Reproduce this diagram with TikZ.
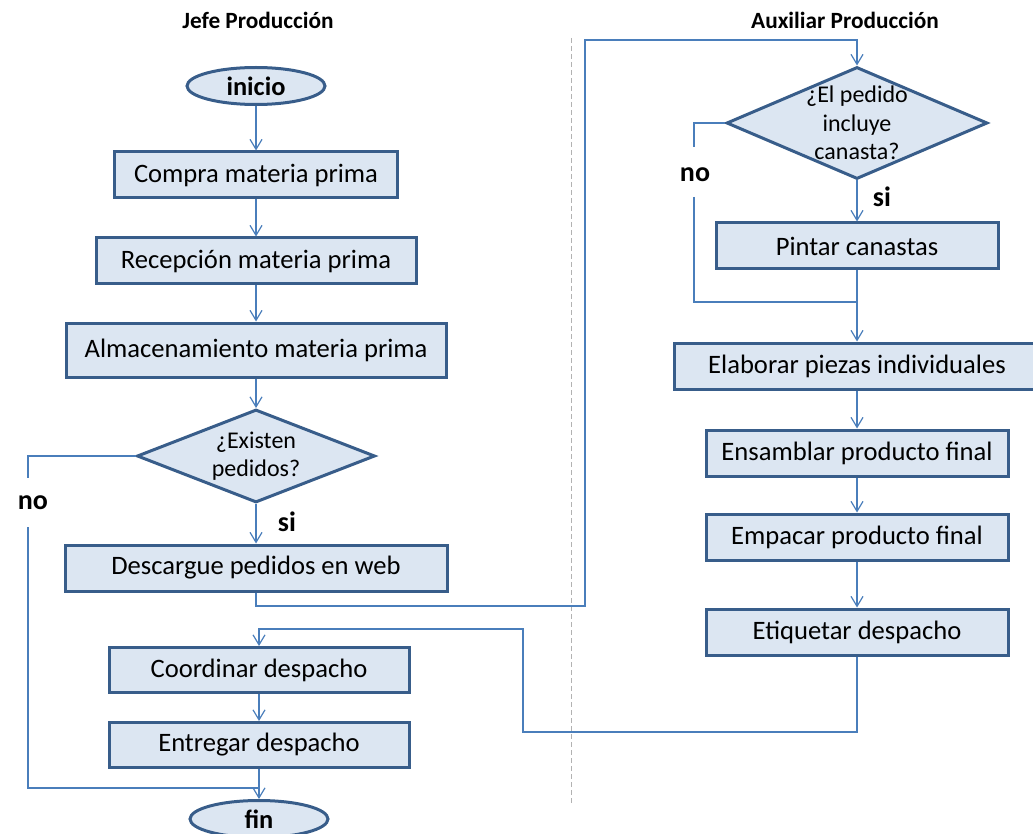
\documentclass[tikz,border=0pt]{standalone}
\usepackage{fontspec}
\setmainfont{Carlito}
\usetikzlibrary{shapes.geometric, arrows.meta}

\definecolor{boxfill}{HTML}{DCE6F2}
\definecolor{boxline}{HTML}{385D8A}
\definecolor{arrline}{HTML}{4A7EBB}

\begin{document}
\begin{tikzpicture}[x=1pt, y=-1pt,
  proc/.style={draw=boxline, fill=boxfill, line width=3pt, rectangle, minimum height=46pt, inner sep=0pt, font=\fontsize{26.6}{32}\selectfont},
  term/.style={draw=boxline, fill=boxfill, line width=3pt, ellipse, minimum width=138pt, minimum height=37pt, inner sep=0pt, font=\bfseries\fontsize{26.4}{32}\selectfont},
  decision/.style={draw=boxline, fill=boxfill, line width=3pt, diamond, inner sep=0pt},
  dtext/.style={align=center, font=\fontsize{24}{28.5}\selectfont},
  conn/.style={draw=arrline, line width=1.2pt},
  arr/.style={conn, -{Straight Barb[length=10pt,width=12pt]}},
  answer/.style={font=\bfseries\fontsize{28}{32}\selectfont},
  lane/.style={font=\bfseries\fontsize{23.3}{28}\selectfont}]

\useasboundingbox (0,0) rectangle (1033,834);

% Lanes
\node[lane] (jefe) at (258,20) {Jefe Producción};
\node[lane] (aux) at (845,20) {Auxiliar Producción};
\draw[gray!60, line width=1pt, dash pattern=on 5pt off 3pt] (571,38) -- (571,805);

% Jefe Produccion
\node[term] (inicio) at (256,86) {inicio};
\node[proc, minimum width=283pt] (compra) at (256,175) {Compra materia prima};
\node[proc, minimum width=320pt] (recepcion) at (256,261) {Recepción materia prima};
\node[proc, minimum width=380pt, minimum height=54pt] (almacen) at (256,350) {Almacenamiento materia prima};
\node[decision, minimum width=238pt, minimum height=93pt] (d1) at (256,456) {};
\node[dtext] (d1text) at (d1) {¿Existen\\pedidos?};
\node[proc, minimum width=382pt] (descargue) at (256,568) {Descargue pedidos en web};
\node[proc, minimum width=300pt, minimum height=45pt] (coord) at (259,670) {Coordinar despacho};
\node[proc, minimum width=300pt, minimum height=45pt] (entregar) at (259,745) {Entregar despacho};
\node[term] (fin) at (259,819) {fin};

% Auxiliar Produccion
\node[decision, minimum width=261pt, minimum height=112pt] (d2) at (857,123) {};
\node[dtext] (d2text) at (d2) {¿El pedido\\incluye\\canasta?};
\node[proc, minimum width=282pt] (pintar) at (857,246) {Pintar canastas};
\node[proc, minimum width=366pt] (elaborar) at (857,366) {Elaborar piezas individuales};
\node[proc, minimum width=302pt] (ensamblar) at (857,453) {Ensamblar producto final};
\node[proc, minimum width=302pt] (empacar) at (857,537) {Empacar producto final};
\node[proc, minimum width=302pt] (etiquetar) at (857,632) {Etiquetar despacho};

% Answers
\node[answer] (si1) at (287,522) {si};
\node[answer] (no1) at (33,503) {no};
\node[answer] (si2) at (882,197) {si};
\node[answer] (no2) at (695,175) {no};

% Bend points
\coordinate (n1) at (28,478);
\coordinate (n2) at (28,527);
\coordinate (n3) at (28,788);
\coordinate (m1) at (694,147);
\coordinate (m2) at (694,197);
\coordinate (m3) at (694,302);
\coordinate (r1) at (585,606);
\coordinate (r2) at (857,40);
\coordinate (s1) at (523,732);
\coordinate (s2) at (259,629);

% Connectors
\draw[arr] (inicio) -- (compra);
\draw[arr] (compra) -- (recepcion);
\draw[arr] (recepcion) -- (almacen);
\draw[arr] (almacen) -- (d1);
\draw[arr] (d1) -- (descargue);
\draw[conn] (d1.west) -| (n1);
\draw[conn] (n2) -- (n3) -- (n3 -| fin);
\draw[arr] (descargue.south) |- (r1) |- (r2) -- (d2.north);
\draw[arr] (d2) -- (pintar);
\draw[conn] (d2.west) -| (m1);
\draw[conn] (m2) -- (m3) -- (m3 -| elaborar);
\draw[arr] (pintar) -- (elaborar);
\draw[arr] (elaborar) -- (ensamblar);
\draw[arr] (ensamblar) -- (empacar);
\draw[arr] (empacar) -- (etiquetar);
\draw[arr] (etiquetar.south) |- (s1) |- (s2) -- (coord.north);
\draw[arr] (coord) -- (entregar);
\draw[arr] (entregar) -- (fin);

\end{tikzpicture}
\end{document}
